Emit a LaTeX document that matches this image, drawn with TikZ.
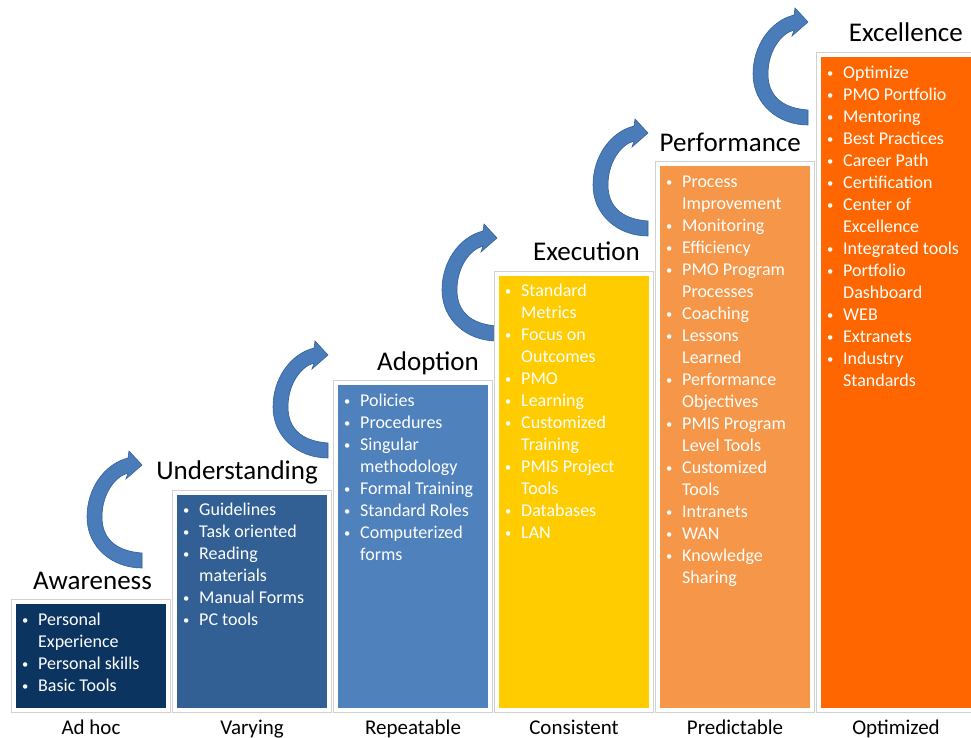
\documentclass[tikz,border=0pt]{standalone}
\usepackage{fontspec}
\setmainfont{Carlito}
\usepackage{tikz}
\usetikzlibrary{positioning}
\tikzset{>=latex}
\definecolor{awareC}{RGB}{12,52,97}
\definecolor{underC}{RGB}{50,96,148}
\definecolor{adoptC}{RGB}{79,129,189}
\definecolor{execC}{RGB}{255,204,0}
\definecolor{perfC}{RGB}{246,150,72}
\definecolor{excelC}{RGB}{255,102,0}
\definecolor{arrowC}{RGB}{74,124,186}
\definecolor{arrowD}{RGB}{52,96,152}
\newcommand{\bul}{\makebox[16pt][l]{\raisebox{1pt}{\scalebox{0.7}{\textbullet}}}}

\begin{document}
\begin{tikzpicture}[x=1pt, y=-1pt,
	lvl/.style={rectangle, draw=white, line width=4pt, minimum width=154pt, inner sep=0pt, outer sep=0pt, anchor=south, preaction={draw=black!18, line width=6pt}},
	items/.style={anchor=north west, inner sep=0pt, text=white, font=\fontsize{18}{22}\selectfont},
	title/.style={anchor=base east, inner sep=0pt, font=\fontsize{27}{32}\selectfont},
	grade/.style={anchor=base, inner sep=0pt, font=\fontsize{21}{25}\selectfont},
	stepup/.pic={
		\filldraw[fill=arrowC, draw=arrowD, line width=0.6pt] (0,88) .. controls (-28,86) and (-40,72) .. (-40,52)
			.. controls (-40,30) and (-28,12) .. (-14,8) -- (-16,14) -- (0,0) -- (-13,-14) -- (-14,-7)
			.. controls (-38,-1) and (-55,24) .. (-55,52) .. controls (-55,82) and (-30,103) .. (0,103) -- cycle;
	}]
	\useasboundingbox (0,0) rectangle (971,738);

	% curved arrows between the levels
	\foreach \tx/\ty in {142/465, 328/355, 497/238, 648/133, 808/22}
		\pic at (\tx,\ty) {stepup};

	% the six levels
	\node[lvl, fill=awareC, minimum height=108pt] (aware) at (91,710) {};
	\node[lvl, fill=underC, minimum height=217.5pt] (under) at ([xshift=161pt]aware.south) {};
	\node[lvl, fill=adoptC, minimum height=327pt] (adopt) at ([xshift=161pt]under.south) {};
	\node[lvl, fill=execC, minimum height=436.5pt] (exec) at ([xshift=161pt]adopt.south) {};
	\node[lvl, fill=perfC, minimum height=545.5pt] (perf) at ([xshift=161pt]exec.south) {};
	\node[lvl, fill=excelC, minimum height=655pt] (excel) at ([xshift=161pt]perf.south) {};

	\node[title] (awareT) at ([xshift=-16pt,yshift=13pt]aware.north east) {Awareness};
	\node[title] (underT) at ([xshift=-11pt,yshift=13pt]under.north east) {Understanding};
	\node[title] (adoptT) at ([xshift=-11pt,yshift=13pt]adopt.north east) {Adoption};
	\node[title] (execT) at ([xshift=-11pt,yshift=13pt]exec.north east) {Execution};
	\node[title] (perfT) at ([xshift=-11pt,yshift=13pt]perf.north east) {Performance};
	\node[title] (excelT) at ([xshift=-10pt,yshift=13pt]excel.north east) {Excellence};

	\node[items] (awareL) at ([xshift=8pt,yshift=-7.6pt]aware.north west) {\begin{tabular}{@{}l@{}l@{}}
		\bul & Personal\\ & Experience\\ \bul & Personal skills\\ \bul & Basic Tools\end{tabular}};
	\node[items] (underL) at ([xshift=8pt,yshift=-7.6pt]under.north west) {\begin{tabular}{@{}l@{}l@{}}
		\bul & Guidelines\\ \bul & Task oriented\\ \bul & Reading\\ & materials\\ \bul & Manual Forms\\ \bul & PC tools\end{tabular}};
	\node[items] (adoptL) at ([xshift=8pt,yshift=-7.6pt]adopt.north west) {\begin{tabular}{@{}l@{}l@{}}
		\bul & Policies\\ \bul & Procedures\\ \bul & Singular\\ & methodology\\ \bul & Formal Training\\ \bul & Standard Roles\\ \bul & Computerized\\ & forms\end{tabular}};
	\node[items] (execL) at ([xshift=8pt,yshift=-7.6pt]exec.north west) {\begin{tabular}{@{}l@{}l@{}}
		\bul & Standard\\ & Metrics\\ \bul & Focus on\\ & Outcomes\\ \bul & PMO\\ \bul & Learning\\ \bul & Customized\\ & Training\\ \bul & PMIS Project\\ & Tools\\ \bul & Databases\\ \bul & LAN\end{tabular}};
	\node[items] (perfL) at ([xshift=8pt,yshift=-7.6pt]perf.north west) {\begin{tabular}{@{}l@{}l@{}}
		\bul & Process\\ & Improvement\\ \bul & Monitoring\\ \bul & Efficiency\\ \bul & PMO Program\\ & Processes\\ \bul & Coaching\\ \bul & Lessons\\ & Learned\\ \bul & Performance\\ & Objectives\\ \bul & PMIS Program\\ & Level Tools\\ \bul & Customized\\ & Tools\\ \bul & Intranets\\ \bul & WAN\\ \bul & Knowledge\\ & Sharing\end{tabular}};
	\node[items] (excelL) at ([xshift=8pt,yshift=-7.6pt]excel.north west) {\begin{tabular}{@{}l@{}l@{}}
		\bul & Optimize\\ \bul & PMO Portfolio\\ \bul & Mentoring\\ \bul & Best Practices\\ \bul & Career Path\\ \bul & Certification\\ \bul & Center of\\ & Excellence\\ \bul & Integrated tools\\ \bul & Portfolio\\ & Dashboard\\ \bul & WEB\\ \bul & Extranets\\ \bul & Industry\\ & Standards\end{tabular}};

	\node[grade] (awareG) at ([yshift=-24pt]aware.south) {Ad hoc};
	\node[grade] (underG) at ([yshift=-24pt]under.south) {Varying};
	\node[grade] (adoptG) at ([yshift=-24pt]adopt.south) {Repeatable};
	\node[grade] (execG) at ([yshift=-24pt]exec.south) {Consistent};
	\node[grade] (perfG) at ([yshift=-24pt]perf.south) {Predictable};
	\node[grade] (excelG) at ([yshift=-24pt]excel.south) {Optimized};
\end{tikzpicture}
\end{document}
